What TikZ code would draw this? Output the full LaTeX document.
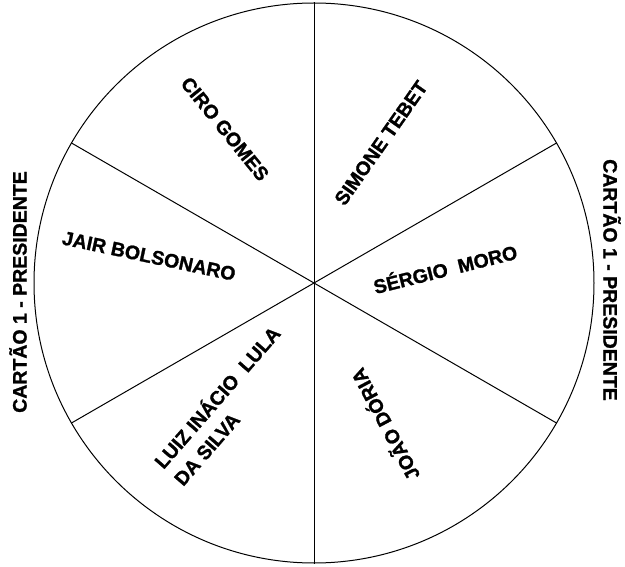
\documentclass[tikz,border=0pt]{standalone}
\usepackage{fontspec}
\setmainfont{Liberation Sans}
\newfontfamily\heavyfont{Liberation Sans Bold}[FakeBold=1.2]
\begin{document}
\begin{tikzpicture}[x=1pt, y=-1pt, line width=1pt,
  every node/.style={font=\heavyfont\fontsize{19.5}{26}\selectfont, inner sep=0pt}]
  \useasboundingbox (0,0) rectangle (625,567);
  \node[circle, draw, minimum size=560pt] (wheel) at (314,283) {};
  \foreach \a in {90,30,-30,-90,-150,150}
    \draw (wheel.center) -- (wheel.\a);

  \node[rotate=-51] (ciro) at (225,129) {CIRO GOMES};
  \node[rotate=55] (simone) at (381,143) {SIMONE TEBET};
  \node[rotate=-12] (jair) at (149,256) {JAIR BOLSONARO};
  \node[rotate=14] (sergio) at (445,268) {SÉRGIO\ \ MORO};
  \node[rotate=49, align=left] (lula) at (226,405) {LUIZ INÁCIO\ \ LULA\\DA SILVA};
  \node[rotate=118] (doria) at (384,425) {JOÃO DÓRIA};

  \node[rotate=90] (cardL) at (18,292) {CARTÃO 1 - PRESIDENTE};
  \node[rotate=-90] (cardR) at (612,280) {CARTÃO 1 - PRESIDENTE};
\end{tikzpicture}
\end{document}
